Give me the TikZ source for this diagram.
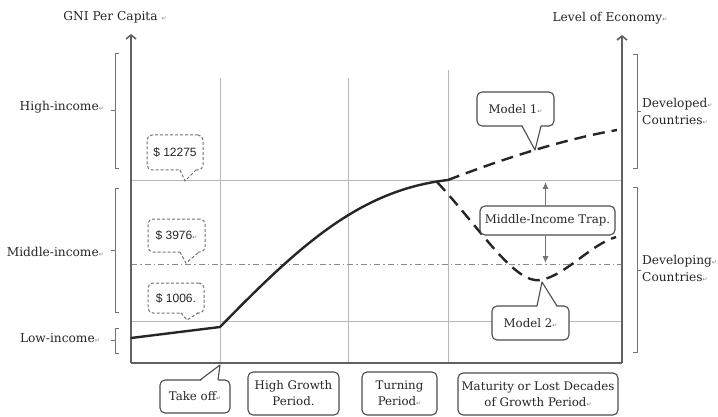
\documentclass[tikz,border=0pt]{standalone}
\usepackage{fontspec}
\setmainfont{DejaVu Serif}
\newfontfamily\dollarfont{Liberation Sans}
\newfontfamily\symfont{DejaVu Sans}
\usetikzlibrary{arrows.meta}
\newcommand\rmk{{\symfont\fontsize{6}{6}\selectfont\textcolor{black!50}{↵}}}
\newcommand\lblsize{\fontsize{12.2}{17}\selectfont}
\newcommand\boxsize{\fontsize{11.8}{16}\selectfont}
\tikzset{
  gridline/.style={draw=black!28, line width=0.8pt},
  axisline/.style={draw=black!62, line width=1.8pt},
  axisarrow/.style={axisline, -{Straight Barb[length=4pt,width=10pt,line width=1.6pt]}},
  brk/.style={draw=black!55, line width=0.7pt},
  curve/.style={draw=black!85, line width=2.4pt, line join=round},
  dashcurve/.style={curve, dash pattern=on 12pt off 7pt},
  dashdot/.style={draw=black!45, line width=0.8pt, dash pattern=on 6pt off 3pt on 1.5pt off 3pt},
  solidbox/.style={draw=black!70, line width=1.1pt, rounded corners=5pt, fill=white, inner sep=0pt, align=center, font=\boxsize, text=black!85},
  ptrline/.style={draw=black!70, line width=1.1pt, line join=round},
  dashbox/.style={draw=black!55, line width=1pt, dash pattern=on 3pt off 2pt, rounded corners=5pt, fill=white, inner sep=0pt, text=black!85, font=\dollarfont\fontsize{12}{14}\selectfont},
  dptrline/.style={draw=black!55, line width=1pt, dash pattern=on 3pt off 2pt},
  lbl/.style={inner sep=0pt, font=\lblsize, align=left, text=black!85},
  traparrow/.style={draw=black!55, line width=0.8pt, -{Latex[length=7pt,width=6pt]}},
}
\begin{document}
\begin{tikzpicture}[x=1pt, y=-1pt]
\fill[white] (0,0) rectangle (718,417);
\useasboundingbox (0,0) rectangle (718,417);

% grid
\draw[gridline] (220,78) -- (220,363);
\draw[gridline] (348,78) -- (348,363);
\draw[gridline] (448,70) -- (448,363);
\draw[gridline] (131,180) -- (622,180);
\draw[gridline] (131,321) -- (622,321);
\draw[dashdot] (131,264) -- (622,264);

% axes
\coordinate (o) at (131,363);
\coordinate (ytop) at (131,34);
\coordinate (r0) at (622,363);
\coordinate (rtop) at (622,35);
\draw[axisline] (o) -- (r0);
\draw[axisarrow] (o) -- (ytop);
\draw[axisarrow] (r0) -- (rtop);

% curves
\draw[curve] (131,338) -- (220,327) .. controls (300,245) and (360,190) .. (448,180);
\draw[dashcurve] (448,180) .. controls (500,160) and (560,140) .. (617,130);
\draw[dashcurve] (437,182) .. controls (480,228) and (515,285) .. (541,280) .. controls (566,275) and (590,245) .. (616,237);

% brackets left
\draw[brk] (119,53) -- (115,53) -- (115,168) -- (119,168);
\draw[brk] (115,110) -- (111,110);
\draw[brk] (119,188) -- (115,188) -- (115,312) -- (119,312);
\draw[brk] (115,250) -- (111,250);
\draw[brk] (119,328) -- (115,328) -- (115,353) -- (119,353);
\draw[brk] (115,340) -- (111,340);
% brackets right
\draw[brk] (633,54) -- (637,54) -- (637,168) -- (633,168);
\draw[brk] (637,111) -- (641,111);
\draw[brk] (633,187) -- (637,187) -- (637,352) -- (633,352);
\draw[brk] (637,270) -- (641,270);

% axis titles and side labels
\node[lbl] (gni) at (115,17) {GNI Per Capita \rmk};
\node[lbl] (level) at (610,18) {Level of Economy\rmk};
\node[lbl, anchor=east] (high) at (104,107) {High-income\rmk};
\node[lbl, anchor=east] (middle) at (104,252) {Middle-income\rmk};
\node[lbl, anchor=east] (low) at (100,338) {Low-income\rmk};
\node[lbl, anchor=west] (developed) at (642,111.5) {Developed\rmk\\Countries\rmk};
\node[lbl, anchor=west] (developing) at (642,268) {Developing\rmk\\Countries\rmk};

% middle-income trap
\node[solidbox, minimum width=135pt, minimum height=29pt] (trap) at (547.5,220.5) {Middle-Income Trap.};
\coordinate (trapup) at (545.5,182);
\coordinate (trapdown) at (545.5,263);
\draw[traparrow] (trap.north -| trapup) -- (trapup);
\draw[traparrow] (trap.south -| trapdown) -- (trapdown);

% Model 1
\node[solidbox, minimum width=77pt, minimum height=34pt] (m1) at (515.5,109) {Model 1\rmk};
\fill[white] (522,124.5) -- (535,150) -- (541,124.5) -- cycle;
\draw[ptrline] (522,126) -- (535,150) -- (541,126);

% Model 2
\node[solidbox, minimum width=77pt, minimum height=34pt] (m2) at (530.5,323) {Model 2\rmk};
\fill[white] (537,307.5) -- (542,282) -- (557,307.5) -- cycle;
\draw[ptrline] (537,306) -- (542,282) -- (557,306);

% bottom period boxes
\node[solidbox, minimum width=70pt, minimum height=33pt] (takeoff) at (195,396.5) {Take off\rmk};
\fill[white] (200,381.5) -- (220,365) -- (218,381.5) -- cycle;
\draw[ptrline] (200,380) -- (220,365) -- (218,380);
\node[solidbox, minimum width=91pt, minimum height=43pt] (growth) at (293.5,393.5) {High Growth\\Period.};
\node[solidbox, minimum width=75pt, minimum height=43pt] (turning) at (399.5,393.5) {Turning\\Period\rmk};
\node[solidbox, minimum width=160pt, minimum height=42pt] (maturity) at (538,394) {Maturity or Lost Decades\\of Growth Period\rmk};

% dashed dollar callouts
\node[dashbox, minimum width=56pt, minimum height=35pt] (d1) at (175,152.5) {\$ 12275};
\fill[white] (180,168.5) -- (185,181) -- (196,168.5) -- cycle;
\draw[dptrline] (180,170) -- (185,181) -- (196,170);
\node[dashbox, minimum width=57pt, minimum height=33pt] (d2) at (176.5,235.5) {\$ 3976\rmk};
\fill[white] (180,250.5) -- (186,263) -- (199,250.5) -- cycle;
\draw[dptrline] (180,252) -- (186,263) -- (199,252);
\node[dashbox, minimum width=56pt, minimum height=30pt] (d3) at (176,298) {\$ 1006.};
\fill[white] (181,311.5) -- (187,320) -- (198,311.5) -- cycle;
\draw[dptrline] (181,313) -- (187,320) -- (198,313);
\end{tikzpicture}
\end{document}
